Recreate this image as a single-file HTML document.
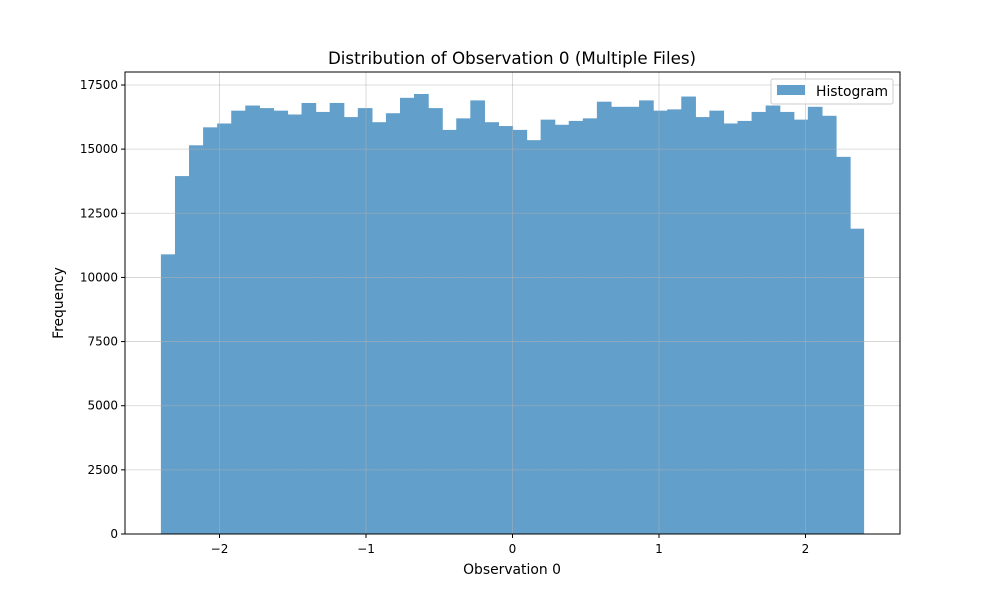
<!DOCTYPE html>
<html><head><meta charset="utf-8"><style>
body{margin:0;background:#fff;font-family:"Liberation Sans",sans-serif}
svg text{font-family:"DejaVu Sans","Liberation Sans",sans-serif;fill:#000}
</style></head><body>
<svg id="chart" width="1000" height="600">
<rect width="1000" height="600" fill="#fff"/>
<text x="512" y="64" font-size="16.7" text-anchor="middle">Distribution of Observation 0 (Multiple Files)</text>
<g id="bars"></g>
<g id="grid"></g>
<rect x="125" y="72" width="775" height="462" fill="none" stroke="#000" stroke-width="1"/>
<g id="ticks"></g>
<text x="512" y="574" font-size="13.9" text-anchor="middle">Observation 0</text>
<text x="63" y="303" font-size="13.9" text-anchor="middle" transform="rotate(-90 63 303)">Frequency</text>
<g>
<rect x="771" y="79" width="122" height="25" rx="2" fill="#fff" fill-opacity="0.8" stroke="#ccc"/>
<rect x="777" y="85" width="28" height="10" fill="#629fca"/>
<text x="816" y="96" font-size="13.9">Histogram</text>
</g>
</svg>
<script>
const binStart = -2.4;
const binEnd = 2.4;
const counts = [10900,13950,15150,15850,16000,16500,16700,16600,16500,16350,16800,16450,16800,16250,16600,16050,16400,17000,17150,16600,15750,16200,16900,16050,15900,15750,15350,16150,15950,16100,16200,16850,16650,16650,16900,16500,16550,17050,16250,16500,16000,16100,16450,16700,16450,16150,16650,16300,14700,11900];
const xTicks = [-2,-1,0,1,2];
const xTickLabels = ["\u22122","\u22121","0","1","2"];
const yTicks = [0,2500,5000,7500,10000,12500,15000,17500];

const NS="http://www.w3.org/2000/svg";
const X = v => 512.5 + (v) * 146.5;
const Y = v => 534 - v * (449 / 17500);
function mk(t,a,p){const e=document.createElementNS(NS,t);for(const k in a)e.setAttribute(k,a[k]);p.appendChild(e);return e;}
const grid=document.getElementById('grid'),bars=document.getElementById('bars'),ticks=document.getElementById('ticks');
xTicks.forEach((v,i)=>{
  const g=mk('line',{x1:X(v),x2:X(v),y1:72,y2:534,stroke:'#b0b0b0','stroke-width':0.8,'stroke-opacity':0.6},grid);
  
  
  const t=mk('line',{x1:X(v),x2:X(v),y1:534,y2:538,stroke:'#000'},ticks);
  
  
  const l=mk('text',{x:X(v),y:553,'font-size':12,'text-anchor':'middle'},ticks);l.textContent=xTickLabels[i];
  
  
});
yTicks.forEach(v=>{
  const g=mk('line',{x1:125,x2:900,y1:Y(v),y2:Y(v),stroke:'#b0b0b0','stroke-width':0.8,'stroke-opacity':0.6},grid);
  
  
  const t=mk('line',{x1:121,x2:125,y1:Y(v),y2:Y(v),stroke:'#000'},ticks);
  
  
  const l=mk('text',{x:118,y:Y(v)+4,'font-size':12,'text-anchor':'end'},ticks);l.textContent=v;
  
  
});
const w=(binEnd-binStart)/counts.length;
counts.forEach((c,i)=>{
  const x0=X(binStart+i*w),x1=X(binStart+(i+1)*w);
  const r=mk('rect',{x:x0,y:Y(c),width:x1-x0+(i<counts.length-1?0.6:0),height:534-Y(c),fill:'#629fca'},bars);
  
  
});
</script>
</body></html>
